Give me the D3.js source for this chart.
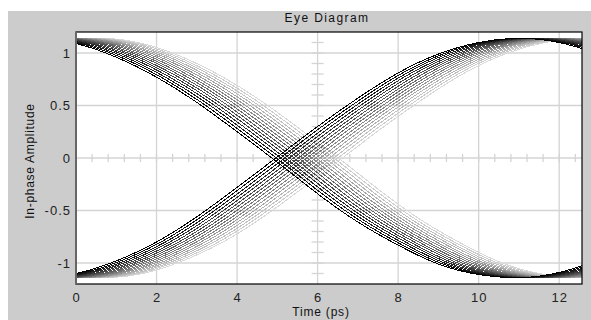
<!DOCTYPE html>
<html>
<head>
<meta charset="utf-8">
<script src="https://cdn.jsdelivr.net/npm/d3@7"></script>
<style>
  body { margin: 0; background: #fff; }
  text { font-family: "Liberation Sans", Arial, sans-serif; }
</style>
</head>
<body>
<svg width="591" height="320"></svg>
<script>
// sample times (ps) of the earliest (black) trace
var baseTime = [-2, -1, 0, 1, 2, 3, 4, 5, 6, 7, 8, 9, 10, 11, 12, 13];
// falling edge, black trace
var fallBlack = [1.12, 1.14, 1.09, 0.96, 0.77, 0.53, 0.25, -0.04, -0.34, -0.61, -0.83, -1.01, -1.11, -1.14, -1.09, -0.97];
// rising edge, black trace
var riseBlack = [-1.11, -1.14, -1.10, -0.98, -0.80, -0.56, -0.28, 0.01, 0.30, 0.57, 0.81, 0.99, 1.10, 1.14, 1.10, 0.99];
// delay of each trace relative to the black one (ps)
var traceOffsets = [0, 0.11, 0.22, 0.33, 0.44, 0.55, 0.66, 0.77, 0.88, 0.99, 1.1, 1.21, 1.32, 1.43, 1.54, 1.65];
var traceShades = ["#000000", "#0f0f0f", "#1e1e1e", "#2d2d2d", "#3c3c3c", "#4b4b4b", "#5a5a5a", "#696969",
                   "#787878", "#878787", "#969696", "#a5a5a5", "#b4b4b4", "#c0c0c0", "#cccccc", "#d8d8d8"];
var xTicks = [0, 2, 4, 6, 8, 10, 12];
var yTicks = [-1, -0.5, 0, 0.5, 1];

var svg = d3.select("svg"),
    pL = 76, pR = 582, pT = 32, pB = 284;

var x = d3.scaleLinear().domain([0, 4 * Math.PI]).range([pL, pR]),
    y = d3.scaleLinear().domain([-1.2, 1.2]).range([pB, pT]);

svg.append("rect").attr("x", 8).attr("y", 11).attr("width", 583).attr("height", 309).attr("fill", "#cccccc");
svg.append("rect").attr("x", pL).attr("y", pT).attr("width", pR - pL).attr("height", pB - pT).attr("fill", "#fff");

var grid = svg.append("g").attr("stroke", "#d4d4d4").attr("stroke-width", 1.3);
grid.selectAll(".vx").data(xTicks).enter().append("line")
    .attr("x1", d => x(d)).attr("x2", d => x(d)).attr("y1", pT).attr("y2", pB);
grid.selectAll(".hy").data(yTicks).enter().append("line")
    .attr("y1", d => y(d)).attr("y2", d => y(d)).attr("x1", pL).attr("x2", pR);

// crosshair minor ticks
var crossX = d3.range(0.4, 12.5, 0.4), crossY = d3.range(-1.1, 1.15, 0.1);
grid.selectAll(".cx").data(crossX).enter().append("line")
    .attr("x1", d => x(d)).attr("x2", d => x(d)).attr("y1", y(0) - 4).attr("y2", y(0) + 4);
grid.selectAll(".cy").data(crossY).enter().append("line")
    .attr("y1", d => y(d)).attr("y2", d => y(d)).attr("x1", x(6) - 6).attr("x2", x(6) + 6);

svg.append("clipPath").attr("id", "clip").append("rect")
    .attr("x", pL).attr("y", pT).attr("width", pR - pL).attr("height", pB - pT);

var line = d3.line().x(d => x(d[0])).y(d => y(d[1])).curve(d3.curveNatural);

var traces = svg.append("g").attr("clip-path", "url(#clip)")
    .attr("fill", "none").attr("stroke-width", 1).style("shape-rendering", "crispEdges");

for (var k = traceOffsets.length - 1; k >= 0; k--) {
    var off = traceOffsets[k];
    traces.append("path").attr("stroke", traceShades[k])
        .attr("d", line(baseTime.map((t, i) => [t + off, fallBlack[i]])));
    traces.append("path").attr("stroke", traceShades[k])
        .attr("d", line(baseTime.map((t, i) => [t + off, riseBlack[i]])));
}

svg.append("rect").attr("x", pL).attr("y", pT).attr("width", pR - pL).attr("height", pB - pT)
    .attr("fill", "none").attr("stroke", "#000").attr("stroke-width", 1.2);
svg.append("line").attr("x1", pL).attr("x2", pL).attr("y1", pT).attr("y2", pB)
    .attr("stroke", "#666").attr("stroke-width", 2);

var xAxis = svg.append("g").attr("transform", "translate(0," + pB + ")")
    .call(d3.axisBottom(x).tickValues(xTicks).tickSize(0).tickPadding(9).tickFormat(d => String(d)));
var yAxis = svg.append("g").attr("transform", "translate(" + pL + ",0)")
    .call(d3.axisLeft(y).tickValues(yTicks).tickSize(0).tickPadding(5).tickFormat(d => String(d)));
[xAxis, yAxis].forEach(function (a) {
    a.select(".domain").remove();
    a.selectAll("text").attr("fill", "#222").style("font-size", "13px").style("letter-spacing", "1px")
        .style("font-family", '"Liberation Sans", Arial, sans-serif');
});

svg.append("text").attr("x", 327).attr("y", 22).attr("text-anchor", "middle")
    .style("font-size", "12px").style("letter-spacing", "1.4px").attr("fill", "#111").text("Eye Diagram");
svg.append("text").attr("x", 321).attr("y", 316).attr("text-anchor", "middle")
    .style("font-size", "12px").style("letter-spacing", "0.8px").attr("fill", "#111").text("Time (ps)");
svg.append("text").attr("transform", "translate(34,161) rotate(-90)").attr("text-anchor", "middle")
    .style("font-size", "12px").style("letter-spacing", "0.7px").attr("fill", "#111").text("In-phase Amplitude");
</script>
</body>
</html>
